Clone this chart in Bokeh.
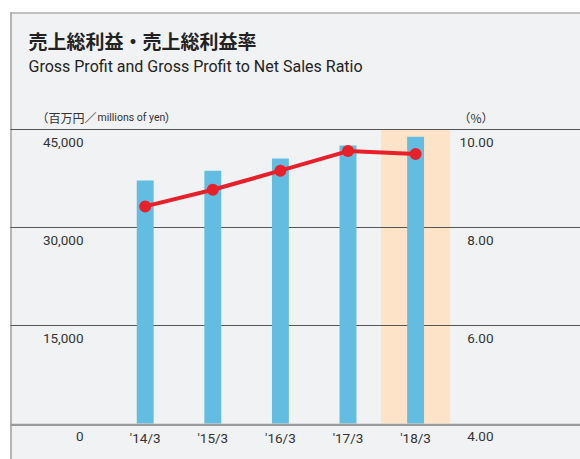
from bokeh.plotting import figure
from bokeh.models import Range1d
from bokeh.core.properties import value
from bokeh.embed import file_html
from bokeh.resources import INLINE

# ---- data ----
categories = ["'14/3", "'15/3", "'16/3", "'17/3", "'18/3"]
gross_profit = [37200, 38700, 40550, 42550, 43900]   # millions of yen
gp_ratio = [8.43, 8.77, 9.16, 9.56, 9.50]            # %
left_ticks = [0, 15000, 30000, 45000]
left_tick_labels = ["0", "15,000", "30,000", "45,000"]
right_ticks = [4, 6, 8, 10]
right_tick_labels = ["4.00", "6.00", "8.00", "10.00"]
highlight = ["'18/3"]

# ---- layout (pixels in figure) ----
W, H = 580, 459
PLOT_TOP, PLOT_BOTTOM = 129, 423
X0, STEP = 144.7, 67.6
YMAX = 45000
RMIN, RMAX = 4, 10

ppy = (PLOT_BOTTOM - PLOT_TOP) / YMAX
ppr = (PLOT_BOTTOM - PLOT_TOP) / (RMAX - RMIN)

BG = "#f1f2f4"
SANS = value("Roboto")
CJK = value("Noto Sans CJK JP")
TXT = "#333333"

p = figure(width=W, height=H, output_backend="svg", toolbar_location=None,
           x_axis_location=None, y_axis_location=None, min_border=0,
           x_range=Range1d(-X0 / STEP, (W - X0) / STEP),
           y_range=Range1d(-(H - PLOT_BOTTOM) / ppy, YMAX + PLOT_TOP / ppy))
p.extra_x_ranges = {"px": Range1d(0, W)}
p.extra_y_ranges = {"px": Range1d(H, 0),
                    "pct": Range1d(RMIN - (H - PLOT_BOTTOM) / ppr, RMAX + PLOT_TOP / ppr)}
p.grid.visible = False
p.outline_line_color = None
p.background_fill_color = "white"
p.border_fill_color = "white"

xs = list(range(len(categories)))

# panel background with left/top border
p.quad(left=[10], right=[W + 5], top=[12], bottom=[H + 5],
       x_range_name="px", y_range_name="px",
       fill_color=BG, line_color=None)
p.segment(x0=[10.5], y0=[12], x1=[10.5], y1=[H + 5], x_range_name="px", y_range_name="px",
          line_color="#8a8a8a", line_width=1.2)
p.segment(x0=[10], y0=[12.5], x1=[W + 5], y1=[12.5], x_range_name="px", y_range_name="px",
          line_color="#8a8a8a", line_width=1.2)

# highlight band
hx = [categories.index(c) for c in highlight]
p.vbar(x=hx, width=1.02, bottom=0, top=YMAX, fill_color="#fde3c8", line_color=None)

# gridlines
for t in left_ticks[1:]:
    p.segment(x0=[10], x1=[W], y0=[t], y1=[t], x_range_name="px",
              line_color="#555555", line_width=1.1)

# bars
p.vbar(x=xs, width=0.25, bottom=0, top=gross_profit, fill_color="#63bde0", line_color=None)

# bottom axis line
p.segment(x0=[10], x1=[W], y0=[-1.3 / ppy], y1=[-1.3 / ppy], x_range_name="px",
          line_color="#9a9a9a", line_width=2.2)

# ratio line
p.line(xs, gp_ratio, y_range_name="pct", line_color="#e8202a", line_width=4)
p.scatter(xs, gp_ratio, y_range_name="pct", size=12, fill_color="#e8202a", line_color=None)

# tick labels
p.text(x=[83] * len(left_ticks), y=left_ticks, text=left_tick_labels, x_range_name="px",
       y_offset=13, text_align="right", text_baseline="middle",
       text_font=SANS, text_font_size="13.5px", text_color=TXT)
p.text(x=[493] * len(right_ticks), y=right_ticks, text=right_tick_labels,
       x_range_name="px", y_range_name="pct",
       y_offset=13, text_align="right", text_baseline="middle",
       text_font=SANS, text_font_size="13.5px", text_color=TXT)
p.text(x=xs, y=[0] * len(xs), text=categories, y_offset=14,
       text_align="center", text_baseline="middle",
       text_font=SANS, text_font_size="13.5px", text_color=TXT)

# titles
p.text(x=[28], y=[39.5], text=["売上総利益・売上総利益率"], x_range_name="px", y_range_name="px",
       text_align="left", text_baseline="middle", text_font=CJK, text_font_style="bold",
       text_font_size="19px", text_color="#222222")
p.text(x=[28], y=[66], text=["Gross Profit and Gross Profit to Net Sales Ratio"],
       x_range_name="px", y_range_name="px",
       text_align="left", text_baseline="middle", text_font=SANS,
       text_font_size="16px", text_color="#222222")
p.text(x=[36], y=[117], text=["（百万円／"], x_range_name="px", y_range_name="px",
       text_align="left", text_baseline="middle", text_font=CJK,
       text_font_size="12px", text_color=TXT)
p.text(x=[97], y=[117], text=["millions of yen"], x_range_name="px", y_range_name="px",
       text_align="left", text_baseline="middle", text_font=SANS,
       text_font_size="10.5px", text_color=TXT)
p.text(x=[164], y=[117], text=["）"], x_range_name="px", y_range_name="px",
       text_align="left", text_baseline="middle", text_font=CJK,
       text_font_size="12px", text_color=TXT)
p.text(x=[493], y=[117], text=["（%）"], x_range_name="px", y_range_name="px",
       text_align="right", text_baseline="middle", text_font=CJK,
       text_font_size="12px", text_color=TXT)

open("out.html", "w").write(file_html(p, INLINE))
